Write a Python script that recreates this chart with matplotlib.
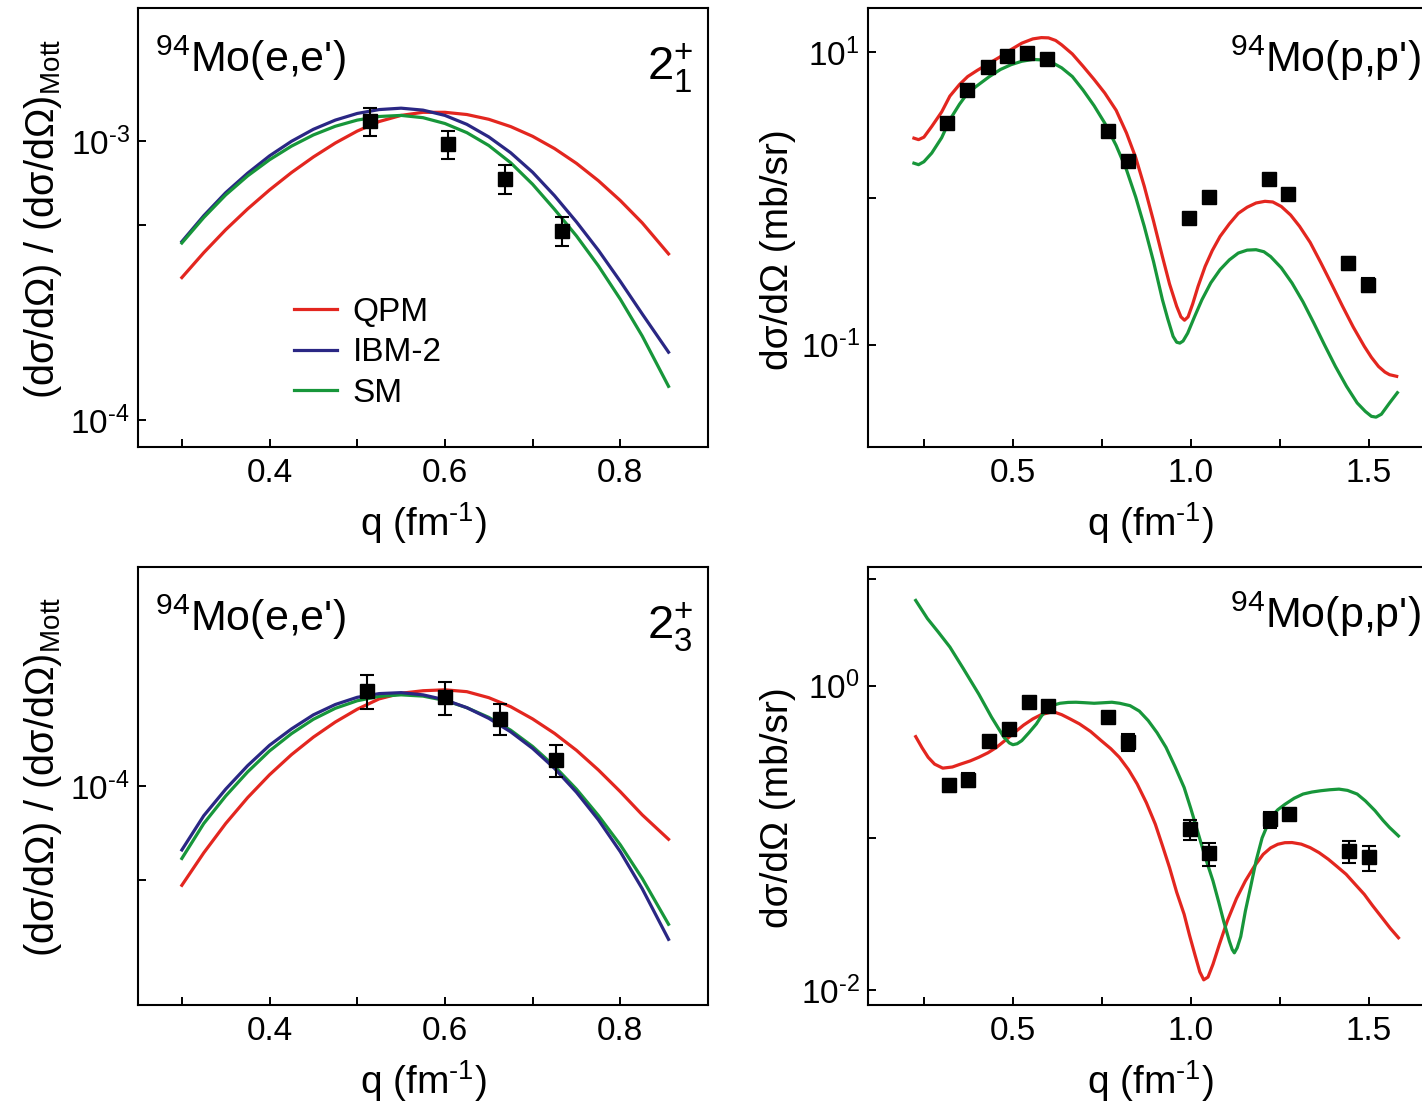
import matplotlib
matplotlib.use("Agg")
import matplotlib.pyplot as plt
from matplotlib.ticker import FixedLocator, FixedFormatter, NullLocator

plt.rcParams['font.family'] = ['Liberation Sans', 'DejaVu Sans']
plt.rcParams['mathtext.fontset'] = 'custom'
plt.rcParams['mathtext.rm'] = 'Liberation Sans'
plt.rcParams['mathtext.it'] = 'Liberation Sans:italic'
plt.rcParams['mathtext.bf'] = 'Liberation Sans:bold'

# ---------------- (e,e') form factors ----------------
q_ee = [0.300, 0.325, 0.350, 0.375, 0.400, 0.425, 0.450, 0.475, 0.500, 0.525,
        0.550, 0.575, 0.600, 0.625, 0.650, 0.675, 0.700, 0.725, 0.750, 0.775,
        0.800, 0.825, 0.855]

ee21_qpm = [3.24e-4, 3.98e-4, 4.81e-4, 5.71e-4, 6.68e-4, 7.71e-4, 8.77e-4, 9.84e-4,
            1.086e-3, 1.175e-3, 1.236e-3, 1.268e-3, 1.268e-3, 1.245e-3, 1.197e-3,
            1.127e-3, 1.040e-3, 9.40e-4, 8.32e-4, 7.21e-4, 6.12e-4, 5.09e-4, 3.94e-4]
ee21_ibm = [4.36e-4, 5.40e-4, 6.53e-4, 7.67e-4, 8.85e-4, 9.98e-4, 1.102e-3, 1.189e-3,
            1.256e-3, 1.297e-3, 1.312e-3, 1.291e-3, 1.236e-3, 1.148e-3, 1.035e-3,
            9.08e-4, 7.73e-4, 6.37e-4, 5.13e-4, 4.06e-4, 3.14e-4, 2.40e-4, 1.75e-4]
ee21_sm = [4.31e-4, 5.32e-4, 6.41e-4, 7.50e-4, 8.57e-4, 9.59e-4, 1.052e-3, 1.130e-3,
           1.189e-3, 1.225e-3, 1.236e-3, 1.213e-3, 1.156e-3, 1.072e-3, 9.64e-4,
           8.36e-4, 7.00e-4, 5.69e-4, 4.57e-4, 3.57e-4, 2.71e-4, 2.00e-4, 1.32e-4]

ee21_q_exp = [0.514, 0.604, 0.668, 0.733]
ee21_exp = [1.18e-3, 9.75e-4, 7.33e-4, 4.77e-4]
ee21_err = [1.35e-4, 1.1e-4, 8.7e-5, 5.6e-5]

ee23_qpm = [4.82e-5, 6.12e-5, 7.59e-5, 9.18e-5, 1.086e-4, 1.259e-4, 1.432e-4, 1.600e-4,
            1.758e-4, 1.897e-4, 1.977e-4, 2.014e-4, 2.028e-4, 2.000e-4, 1.914e-4,
            1.791e-4, 1.637e-4, 1.472e-4, 1.300e-4, 1.125e-4, 9.59e-5, 8.09e-5, 6.76e-5]
ee23_ibm = [6.25e-5, 8.04e-5, 9.77e-5, 1.161e-4, 1.349e-4, 1.521e-4, 1.687e-4, 1.820e-4,
            1.919e-4, 1.972e-4, 1.986e-4, 1.954e-4, 1.884e-4, 1.778e-4, 1.644e-4,
            1.489e-4, 1.318e-4, 1.138e-4, 9.55e-5, 7.80e-5, 6.17e-5, 4.70e-5, 3.24e-5]
ee23_sm = [5.87e-5, 7.59e-5, 9.29e-5, 1.109e-4, 1.294e-4, 1.469e-4, 1.633e-4, 1.770e-4,
           1.871e-4, 1.932e-4, 1.954e-4, 1.936e-4, 1.875e-4, 1.778e-4, 1.656e-4,
           1.507e-4, 1.337e-4, 1.156e-4, 9.77e-5, 8.05e-5, 6.49e-5, 5.07e-5, 3.62e-5]

ee23_q_exp = [0.511, 0.600, 0.663, 0.727]
ee23_exp = [2.01e-4, 1.92e-4, 1.64e-4, 1.21e-4]
ee23_err = [2.45e-5, 2.35e-5, 1.9e-5, 1.4e-5]

# ---------------- (p,p') cross sections ----------------
pp21_q_qpm = [0.222, 0.235, 0.250, 0.272, 0.300, 0.323, 0.350, 0.373, 0.400, 0.434,
              0.465, 0.495, 0.525, 0.556, 0.580, 0.600, 0.620, 0.637, 0.667, 0.697,
              0.728, 0.758, 0.790, 0.819, 0.845, 0.869, 0.895, 0.920, 0.940, 0.960,
              0.972, 0.982, 0.992, 1.005, 1.020, 1.040, 1.060, 1.082, 1.108, 1.133,
              1.158, 1.183, 1.208, 1.230, 1.254, 1.280, 1.305, 1.335, 1.365, 1.395,
              1.426, 1.456, 1.487, 1.507, 1.527, 1.545, 1.558, 1.578]
pp21_qpm = [2.58, 2.52, 2.62, 3.1, 3.9, 5.0, 6.0, 6.8, 7.5, 8.4,
            9.3, 10.4, 11.5, 12.3, 12.55, 12.5, 12.0, 11.2, 9.7, 8.0,
            6.5, 5.25, 4.0, 2.8, 1.9, 1.21, 0.70, 0.40, 0.26, 0.183,
            0.155, 0.147, 0.155, 0.19, 0.25, 0.343, 0.44, 0.55, 0.67, 0.79,
            0.87, 0.93, 0.955, 0.945, 0.88, 0.77, 0.645, 0.50, 0.363, 0.26,
            0.183, 0.132, 0.0975, 0.082, 0.071, 0.065, 0.0624, 0.0608]
pp21_q_sm = [0.222, 0.235, 0.250, 0.272, 0.300, 0.323, 0.350, 0.373, 0.400, 0.434,
             0.465, 0.495, 0.525, 0.556, 0.576, 0.596, 0.617, 0.637, 0.667, 0.697,
             0.728, 0.758, 0.790, 0.819, 0.845, 0.869, 0.895, 0.920, 0.935, 0.950,
             0.960, 0.969, 0.978, 0.991, 1.010, 1.031, 1.056, 1.082, 1.108, 1.133,
             1.158, 1.183, 1.205, 1.224, 1.254, 1.284, 1.315, 1.345, 1.375, 1.406,
             1.437, 1.467, 1.490, 1.507, 1.520, 1.535, 1.558, 1.580]
pp21_sm = [1.74, 1.70, 1.78, 2.04, 2.6, 3.45, 4.4, 5.25, 5.9, 6.8,
           7.6, 8.2, 8.65, 8.9, 8.85, 8.6, 8.3, 7.8, 6.8, 5.5,
           4.3, 3.27, 2.3, 1.57, 1.02, 0.644, 0.37, 0.203, 0.15, 0.114,
           0.104, 0.1026, 0.106, 0.12, 0.155, 0.203, 0.265, 0.326, 0.38, 0.423,
           0.443, 0.446, 0.432, 0.40, 0.335, 0.264, 0.196, 0.141, 0.10, 0.071,
           0.052, 0.040, 0.035, 0.0324, 0.032, 0.0335, 0.040, 0.047]
pp21_q_exp = [0.316, 0.371, 0.429, 0.483, 0.541, 0.596, 0.768, 0.822,
              0.995, 1.050, 1.219, 1.274, 1.441, 1.497]
pp21_exp = [3.27, 5.5, 7.85, 9.4, 9.85, 8.96, 2.87, 1.79,
            0.734, 1.02, 1.36, 1.07, 0.361, 0.257]
pp21_err = [0.10, 0.16, 0.22, 0.26, 0.27, 0.25, 0.08, 0.05,
            0.02, 0.03, 0.04, 0.03, 0.035, 0.027]

pp23_q_qpm = [0.227, 0.245, 0.262, 0.280, 0.303, 0.330, 0.353, 0.380, 0.404, 0.430,
              0.454, 0.480, 0.505, 0.530, 0.556, 0.580, 0.606, 0.620, 0.637, 0.660,
              0.687, 0.718, 0.748, 0.775, 0.799, 0.825, 0.849, 0.875, 0.900, 0.920,
              0.940, 0.960, 0.981, 0.996, 1.011, 1.025, 1.036, 1.048, 1.062, 1.080,
              1.102, 1.128, 1.153, 1.178, 1.203, 1.224, 1.244, 1.264, 1.284, 1.310,
              1.335, 1.360, 1.386, 1.410, 1.436, 1.460, 1.487, 1.510, 1.537, 1.560, 1.583]
pp23_qpm = [0.462, 0.39, 0.338, 0.305, 0.287, 0.292, 0.305, 0.32, 0.338, 0.362,
            0.393, 0.44, 0.493, 0.55, 0.604, 0.645, 0.668, 0.665, 0.644, 0.605,
            0.56, 0.50, 0.435, 0.385, 0.338, 0.28, 0.226, 0.17, 0.123, 0.089,
            0.0638, 0.044, 0.0315, 0.023, 0.0172, 0.0132, 0.0117, 0.0122, 0.0148, 0.020,
            0.0284, 0.040, 0.0522, 0.065, 0.078, 0.086, 0.0908, 0.093, 0.0932, 0.091,
            0.0863, 0.080, 0.0724, 0.065, 0.0577, 0.050, 0.0426, 0.036, 0.0299, 0.0255, 0.0221]
pp23_q_sm = [0.227, 0.260, 0.290, 0.323, 0.360, 0.404, 0.440, 0.475, 0.490, 0.500,
             0.512, 0.525, 0.545, 0.566, 0.580, 0.596, 0.615, 0.632, 0.655, 0.677,
             0.700, 0.728, 0.750, 0.778, 0.800, 0.829, 0.855, 0.880, 0.905, 0.930,
             0.955, 0.981, 1.000, 1.021, 1.040, 1.062, 1.078, 1.092, 1.108, 1.116,
             1.122, 1.130, 1.140, 1.153, 1.168, 1.183, 1.200, 1.224, 1.244, 1.264,
             1.290, 1.315, 1.340, 1.365, 1.390, 1.416, 1.440, 1.467, 1.490, 1.517,
             1.540, 1.558, 1.583]
pp23_sm = [3.62, 2.75, 2.25, 1.79, 1.30, 0.88, 0.62, 0.457, 0.42, 0.409,
           0.415, 0.435, 0.49, 0.56, 0.63, 0.70, 0.745, 0.765, 0.775, 0.777,
           0.772, 0.765, 0.77, 0.777, 0.765, 0.738, 0.68, 0.589, 0.49, 0.393,
           0.295, 0.214, 0.155, 0.106, 0.075, 0.0522, 0.038, 0.0284, 0.021, 0.0185,
           0.0176, 0.019, 0.0225, 0.0331, 0.048, 0.0706, 0.10, 0.136, 0.153, 0.166,
           0.182, 0.194, 0.20, 0.204, 0.207, 0.209, 0.205, 0.194, 0.175, 0.151,
           0.13, 0.117, 0.103]
pp23_q_exp = [0.321, 0.373, 0.432, 0.488, 0.544, 0.599, 0.768, 0.824,
              0.998, 1.050, 1.222, 1.276, 1.444, 1.499]
pp23_exp = [0.223, 0.241, 0.435, 0.519, 0.785, 0.738, 0.625, 0.428,
            0.114, 0.0793, 0.133, 0.143, 0.082, 0.075]
pp23_err = [0.022, 0.024, 0.022, 0.026, 0.024, 0.022, 0.05, 0.056,
            0.017, 0.0135, 0.016, 0.0115, 0.014, 0.014]

RED = '#e3261f'
BLUE = '#2a2784'
GREEN = '#17963a'

W, H = 1422, 1117
fig = plt.figure(figsize=(W / 100, H / 100), dpi=100)


def make_axes(x0, x1, y0, y1):
    return fig.add_axes([x0 / W, 1 - y1 / H, (x1 - x0) / W, (y1 - y0) / H])


ax_tl = make_axes(138, 708, 8, 447)
ax_tr = make_axes(868, 1433, 8, 447)
ax_bl = make_axes(138, 708, 567, 1005)
ax_br = make_axes(868, 1433, 567, 1005)

LW = 2.3


def dec(e):
    """Power-of-ten label with a plain hyphen in the exponent."""
    exp = r'\text{' + str(e) + '}' if e < 0 else str(e)
    return r'$\mathregular{10^{' + exp + '}}$'


def style(ax, xlim, ylim, xt, xl, yt, yl):
    ax.set_yscale('log')
    ax.set_xlim(*xlim)
    ax.set_ylim(*ylim)
    ax.xaxis.set_major_locator(FixedLocator(xt))
    ax.xaxis.set_major_formatter(FixedFormatter(xl))
    ax.yaxis.set_major_locator(FixedLocator(yt))
    ax.yaxis.set_major_formatter(FixedFormatter(yl))
    ax.xaxis.set_minor_locator(NullLocator())
    ax.yaxis.set_minor_locator(NullLocator())
    ax.tick_params(direction='in', length=6, width=1.4, labelsize=24)
    ax.tick_params(axis='x', pad=8)
    ax.tick_params(axis='y', pad=6)
    for s in ax.spines.values():
        s.set_linewidth(1.5)


ee_xt = [0.3, 0.4, 0.5, 0.6, 0.7, 0.8]
ee_xl = ['', '0.4', '', '0.6', '', '0.8']
pp_xt = [0.25, 0.5, 0.75, 1.0, 1.25, 1.5]
pp_xl = ['', '0.5', '', '1.0', '', '1.5']

style(ax_tl, (0.25, 0.90), (8e-5, 3e-3), ee_xt, ee_xl,
      [1e-4, 5e-4, 1e-3], [dec(-4), '', dec(-3)])
style(ax_bl, (0.25, 0.90), (2e-5, 5e-4), ee_xt, ee_xl,
      [5e-5, 1e-4], ['', dec(-4)])
style(ax_tr, (0.093, 1.68), (0.02, 20), pp_xt, pp_xl,
      [0.1, 1, 10], [dec(-1), '', dec(1)])
style(ax_br, (0.093, 1.68), (0.008, 6), pp_xt, pp_xl,
      [0.01, 0.1, 1, 5], [dec(-2), '', dec(0), ''])

err_kw = dict(fmt='s', color='black', ms=9.5, capsize=5, elinewidth=1.5,
              capthick=1.5, zorder=5)

# electron scattering panels
ax_tl.plot(q_ee, ee21_qpm, color=RED, lw=LW, label='QPM')
ax_tl.plot(q_ee, ee21_ibm, color=BLUE, lw=LW, label='IBM-2')
ax_tl.plot(q_ee, ee21_sm, color=GREEN, lw=LW, label='SM')
ax_tl.errorbar(ee21_q_exp, ee21_exp, yerr=ee21_err, **err_kw)

ax_bl.plot(q_ee, ee23_qpm, color=RED, lw=LW)
ax_bl.plot(q_ee, ee23_sm, color=GREEN, lw=LW)
ax_bl.plot(q_ee, ee23_ibm, color=BLUE, lw=LW)
ax_bl.errorbar(ee23_q_exp, ee23_exp, yerr=ee23_err, **err_kw)

# proton scattering panels
ax_tr.plot(pp21_q_qpm, pp21_qpm, color=RED, lw=LW)
ax_tr.plot(pp21_q_sm, pp21_sm, color=GREEN, lw=LW)
ax_tr.errorbar(pp21_q_exp, pp21_exp, yerr=pp21_err, **err_kw)

ax_br.plot(pp23_q_qpm, pp23_qpm, color=RED, lw=LW)
ax_br.plot(pp23_q_sm, pp23_sm, color=GREEN, lw=LW)
ax_br.errorbar(pp23_q_exp, pp23_exp, yerr=pp23_err, **err_kw)

ax_tl.legend(loc='upper left', bbox_to_anchor=(0.233, 0.395), frameon=False,
             fontsize=24, handlelength=1.3, handletextpad=0.45,
             labelspacing=0.28, borderpad=0.2)

ee_ylabel = r'(dσ/dΩ) / (dσ/dΩ)$\mathregular{_{Mott}}$'
pp_ylabel = 'dσ/dΩ (mb/sr)'
xlab = r'q (fm$\mathregular{^{\text{-1}}}$)'
for ax in (ax_tl, ax_bl):
    ax.set_ylabel(ee_ylabel, fontsize=28.5)
    ax.yaxis.set_label_coords(-0.13, 0.52)
for ax in (ax_tr, ax_br):
    ax.set_ylabel(pp_ylabel, fontsize=28)
    ax.yaxis.set_label_coords(-0.128, 0.45)
for ax in (ax_tl, ax_bl, ax_tr, ax_br):
    ax.set_xlabel(xlab, fontsize=28, labelpad=8)

TXT = 31
ax_tl.text(0.03, 0.855, r"$\mathregular{^{94}}$Mo(e,e')", transform=ax_tl.transAxes,
           fontsize=TXT, ha='left', va='baseline')
ax_bl.text(0.03, 0.855, r"$\mathregular{^{94}}$Mo(e,e')", transform=ax_bl.transAxes,
           fontsize=TXT, ha='left', va='baseline')
ax_tr.text(0.64, 0.855, r"$\mathregular{^{94}}$Mo(p,p')", transform=ax_tr.transAxes,
           fontsize=TXT, ha='left', va='baseline')
ax_br.text(0.64, 0.86, r"$\mathregular{^{94}}$Mo(p,p')", transform=ax_br.transAxes,
           fontsize=TXT, ha='left', va='baseline')
ax_tl.text(0.975, 0.835, r'$\mathregular{2^{+}_{1}}$', transform=ax_tl.transAxes,
           fontsize=34, ha='right', va='baseline')
ax_bl.text(0.975, 0.835, r'$\mathregular{2^{+}_{3}}$', transform=ax_bl.transAxes,
           fontsize=34, ha='right', va='baseline')

fig.savefig('out.png', dpi=100, facecolor='white')
